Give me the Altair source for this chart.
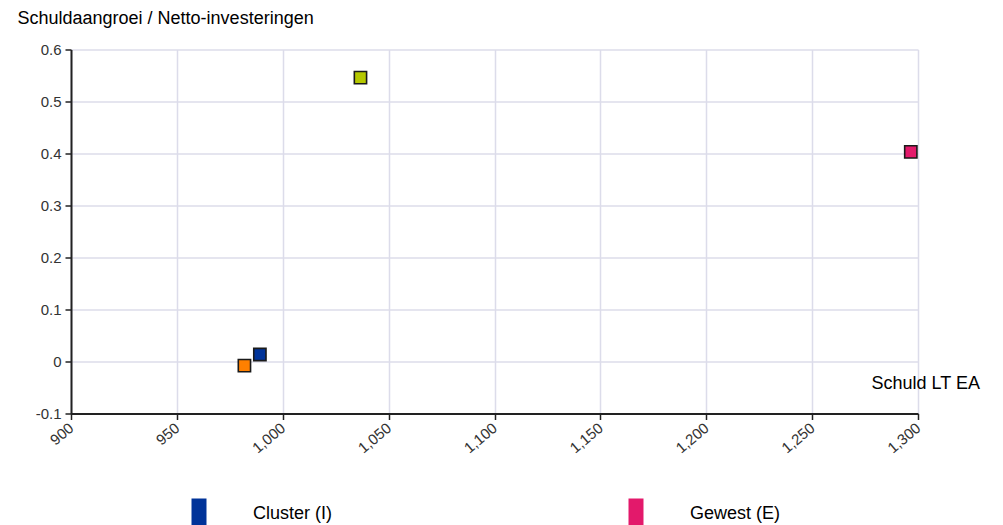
import altair as alt
import pandas as pd

# data
names = ["Cluster (I)", "Gemeente", "Gewest (E)", "Provincie"]
schuld_lt_ea = [989.2, 981.9, 1296.6, 1036.7]
ratio = [0.0135, -0.008, 0.403, 0.546]
colors = ["#003399", "#ff8000", "#e3196b", "#b5c800"]
legend_shown = ["Cluster (I)", "Gewest (E)"]
x_ticks = [900, 950, 1000, 1050, 1100, 1150, 1200, 1250, 1300]
y_ticks = [-0.1, 0, 0.1, 0.2, 0.3, 0.4, 0.5, 0.6]

df = pd.DataFrame({"naam": names, "x": schuld_lt_ea, "y": ratio})

FONT = "Liberation Sans"

chart = alt.Chart(df).mark_point(
    shape="square", filled=True, size=150, opacity=1,
    stroke="#1a1a1a", strokeWidth=1.6
).encode(
    x=alt.X("x:Q",
            scale=alt.Scale(domain=[900, 1300], nice=False, zero=False),
            axis=alt.Axis(values=x_ticks, format=",d", title="Schuld LT EA",
                          labelAngle=320, labelAlign="right", labelBaseline="middle",
                          labelPadding=6,
                          titleX=800, titleY=-30, titleAlign="left",
                          titleBaseline="middle", titleAngle=0)),
    y=alt.Y("y:Q",
            scale=alt.Scale(domain=[-0.1, 0.6], nice=False, zero=False),
            axis=alt.Axis(values=y_ticks,
                          labelExpr="'' + round(datum.value*10)/10",
                          title="Schuldaangroei / Netto-investeringen",
                          titleX=-54, titleY=-31, titleAlign="left",
                          titleBaseline="middle", titleAngle=0)),
    color=alt.Color("naam:N",
                    scale=alt.Scale(domain=names, range=colors),
                    legend=alt.Legend(title=None, orient="none",
                                      values=legend_shown,
                                      legendX=119, legendY=455,
                                      columns=2, gridAlign="all",
                                      symbolType="M-1,-2H1V2H-1Z",
                                      symbolSize=225, symbolStrokeWidth=0,
                                      symbolOpacity=1,
                                      labelOffset=45, columnPadding=283,
                                      labelFont=FONT, labelFontSize=18,
                                      labelColor="#000"))
).properties(
    width=847, height=364,
    autosize=alt.AutoSizeParams(type="none"),
    padding={"left": 63, "top": 41.5, "right": 77, "bottom": 111.5}
).configure_view(
    stroke=None
).configure_axis(
    labelFont=FONT, labelFontSize=15, labelColor="#333",
    titleFont=FONT, titleFontSize=18, titleFontWeight="normal", titleColor="#000",
    domainColor="#222", domainWidth=2, tickColor="#222", tickWidth=1.5, tickSize=6,
    gridColor="#dcdcea", gridWidth=1.5
).configure_axisY(labelPadding=4)

chart.save("out.html", embed_options={"renderer": "svg", "actions": False})
